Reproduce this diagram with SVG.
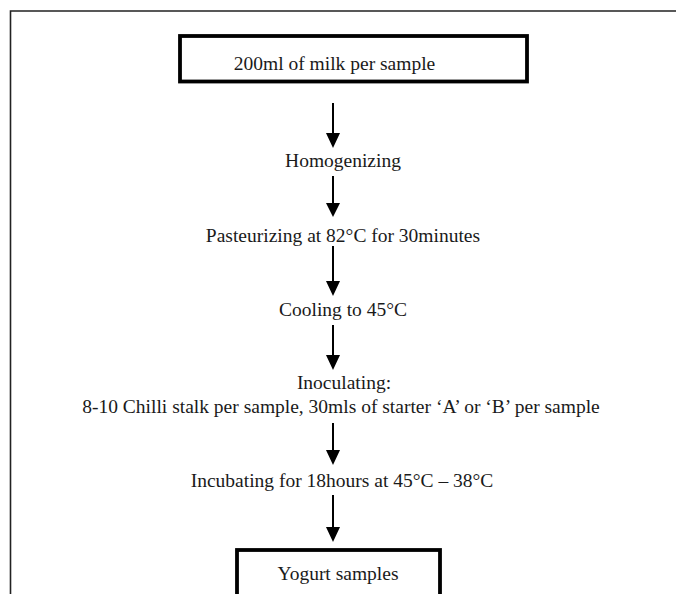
<svg xmlns="http://www.w3.org/2000/svg" width="676" height="594" viewBox="0 0 676 594">
<style>
.t{font-family:"Liberation Serif","Times New Roman",serif;font-size:19.5px;fill:#1a1a1a;text-anchor:middle}
.box{fill:#fff;stroke:#000;stroke-width:3.8}
.ln{stroke:#000;stroke-width:2;fill:none}
</style>
<defs>
<marker id="ah" viewBox="0 0 14 15" refX="7" refY="15" markerWidth="14" markerHeight="15" markerUnits="userSpaceOnUse" orient="auto-start-reverse">
<path d="M0,0 L14,0 L7,15 Z" fill="#000"/>
</marker>
</defs>
<rect width="676" height="594" fill="#fff"/>
<path d="M10.5,594 V11 H676" fill="none" stroke="#222" stroke-width="1.6"/>
<g id="connectors">
<line class="ln" x1="333" y1="103" x2="333" y2="133"/>
<path d="M326,133 H340 L333,148 Z"/>
<line class="ln" x1="333" y1="176" x2="333" y2="203"/>
<path d="M326,203 H340 L333,217 Z"/>
<line class="ln" x1="333" y1="246" x2="333" y2="281"/>
<path d="M326,281 H340 L333,296 Z"/>
<line class="ln" x1="333" y1="325" x2="333" y2="355"/>
<path d="M326,355 H340 L333,370 Z"/>
<line class="ln" x1="333" y1="423" x2="333" y2="450"/>
<path d="M326,450 H340 L333,465 Z"/>
<line class="ln" x1="333" y1="495" x2="333" y2="527"/>
<path d="M326,527 H340 L333,542 Z"/>
</g>
<g id="milk">
<rect class="box" x="180" y="36" width="347" height="45.5"/>
<text class="t" x="334.5" y="70">200ml of milk per sample</text>
</g>
<g id="homogenizing">
<text class="t" x="343" y="167">Homogenizing</text>
</g>
<g id="pasteurizing">
<text class="t" x="343" y="242">Pasteurizing at 82°C for 30minutes</text>
</g>
<g id="cooling">
<text class="t" x="343" y="316">Cooling to 45°C</text>
</g>
<g id="inoculating">
<text class="t" x="344" y="389">Inoculating:</text>
<text class="t" x="341" y="413">8-10 Chilli stalk per sample, 30mls of starter ‘A’ or ‘B’ per sample</text>
</g>
<g id="incubating">
<text class="t" x="342" y="487">Incubating for 18hours at 45°C – 38°C</text>
</g>
<g id="yogurt">
<rect class="box" x="237" y="550" width="203" height="60"/>
<text class="t" x="338" y="580">Yogurt samples</text>
</g>
</svg>
